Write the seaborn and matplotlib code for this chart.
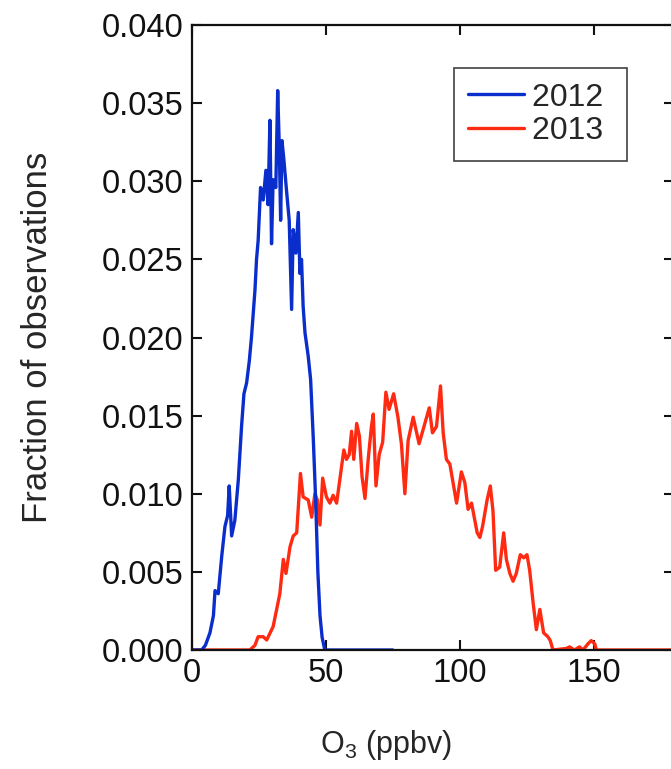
import matplotlib
matplotlib.use("Agg")
import matplotlib.pyplot as plt
import seaborn as sns
import pandas as pd

# O3 distributions (ppbv, fraction of observations)
o3_2012 = [0, 3.6, 5.0, 6.7, 8.0, 8.6, 9.8, 11.1, 12.3, 13.3, 13.9, 14.8, 16.0,
           17.3, 18.5, 19.4, 20.4, 21.4, 22.2, 23.5, 24.1, 24.7, 25.6, 26.6,
           27.6, 28.4, 29.1, 29.7, 30.3, 31.3, 32.0, 32.6, 33.1, 33.6, 34.3,
           35.3, 36.3, 37.2, 37.8, 38.8, 39.7, 40.3, 40.9, 41.5, 42.2, 43.4,
           44.3, 45.3, 46.2, 47.0, 47.8, 48.6, 49.6, 75]
frac_2012 = [0, 0, 0.0003, 0.0011, 0.0022, 0.0038, 0.0036, 0.0060, 0.0079,
             0.0086, 0.0105, 0.0073, 0.0083, 0.0109, 0.0143, 0.0164, 0.0171,
             0.0185, 0.0200, 0.0230, 0.0250, 0.0262, 0.0296, 0.0288, 0.0307,
             0.0285, 0.0339, 0.0260, 0.0301, 0.0296, 0.0358, 0.0322, 0.0275,
             0.0326, 0.0314, 0.0294, 0.0275, 0.0218, 0.0269, 0.0254, 0.0280,
             0.0241, 0.0250, 0.0220, 0.0203, 0.0188, 0.0173, 0.0135, 0.0095,
             0.0050, 0.0022, 0.0008, 0, 0]

o3_2013 = [0, 21.6, 23.5, 24.7, 26.6, 27.9, 30.3, 32.8, 34.1, 35.1, 36.6, 37.8,
           39.1, 40.5, 41.5, 43.4, 44.7, 45.9, 46.8, 47.8, 48.8, 50.2, 51.5,
           52.7, 54.0, 55.2, 56.7, 57.7, 58.7, 59.6, 60.4, 61.5, 62.5, 63.5,
           64.6, 65.8, 67.0, 67.7, 68.7, 69.9, 71.2, 72.4, 73.6, 75.3, 76.9,
           78.2, 79.5, 80.7, 82.6, 84.8, 86.3, 88.6, 89.8, 91.3, 92.8, 93.8,
           95.0, 96.3, 98.8, 100.6, 101.9, 103.1, 104.4, 106.5, 107.5, 108.5,
           110.2, 111.4, 112.4, 113.4, 114.9, 116.4, 117.4, 118.7, 119.9,
           121.1, 122.6, 123.9, 125.1, 126.1, 127.4, 128.6, 129.9, 131.3,
           132.9, 133.8, 134.8, 139.8, 141.0, 142.8, 144.7, 146.0, 147.9,
           149.1, 150.4, 151.0, 180]
frac_2013 = [0, 0, 0.0003, 0.00085, 0.00085, 0.00064, 0.0015, 0.0036, 0.0058,
             0.0049, 0.0066, 0.0073, 0.0075, 0.0113, 0.0098, 0.0096, 0.0085,
             0.0100, 0.0096, 0.0080, 0.0110, 0.0098, 0.0094, 0.0099, 0.0094,
             0.0109, 0.0128, 0.0122, 0.0125, 0.0140, 0.0122, 0.0145, 0.0137,
             0.0111, 0.0097, 0.0122, 0.0143, 0.0151, 0.0105, 0.0125, 0.0133,
             0.0165, 0.0154, 0.0164, 0.0149, 0.0132, 0.0100, 0.0134, 0.0149,
             0.0132, 0.0141, 0.0155, 0.0139, 0.0143, 0.0169, 0.0139, 0.0122,
             0.0119, 0.0094, 0.0114, 0.0107, 0.0090, 0.0094, 0.0075, 0.0072,
             0.0079, 0.0096, 0.0105, 0.0089, 0.0051, 0.0053, 0.0075, 0.0058,
             0.0049, 0.0044, 0.0049, 0.0061, 0.0059, 0.0061, 0.0051, 0.0030,
             0.0013, 0.0026, 0.0011, 0.00085, 0.0006, 0, 0.0001, 0.0002, 0,
             0.0002, 0, 0.0004, 0.0006, 0.0004, 0, 0]

years = ["2012", "2013"]
colors = {"2012": "#0A2ECC", "2013": "#FF2A12"}
y_ticks = [0.000, 0.005, 0.010, 0.015, 0.020, 0.025, 0.030, 0.035, 0.040]
x_ticks = [0, 50, 100, 150]

df12 = pd.DataFrame({"o3": o3_2012, "frac": frac_2012, "year": "2012"})
df13 = pd.DataFrame({"o3": o3_2013, "frac": frac_2013, "year": "2013"})

sns.set_style("ticks")
plt.rcParams["font.family"] = ["Liberation Sans", "DejaVu Sans"]
plt.rcParams["mathtext.fontset"] = "custom"
plt.rcParams["mathtext.rm"] = "Liberation Sans"

fig = plt.figure(figsize=(6.71, 7.69), dpi=100)
ax = fig.add_axes([192 / 671, 1 - 650 / 769, 482 / 671, 625 / 769])

# red first so the blue curve sits on top where they cross
sns.lineplot(data=df13, x="o3", y="frac", color=colors["2013"], lw=2.4,
             estimator=None, sort=False, label="2013", ax=ax)
sns.lineplot(data=df12, x="o3", y="frac", color=colors["2012"], lw=2.4,
             estimator=None, sort=False, label="2012", ax=ax)

ax.set_xlim(0, 180)
ax.set_ylim(0, 0.040)
ax.set_xticks(x_ticks)
ax.set_yticks(y_ticks)
ax.set_yticklabels([f"{v:.3f}" for v in y_ticks])
ax.tick_params(direction="in", length=7, width=1.5, labelsize=23.5,
               top=True, right=True, pad=6, colors="#111111")
for sp in ax.spines.values():
    sp.set_visible(True)
    sp.set_linewidth(1.6)
    sp.set_color("#111111")

ax.set_xlabel(r"O$_\mathregular{3}$ (ppbv)", fontsize=22)
ax.xaxis.set_label_coords((386 - 192) / 482, -0.125)
ax.set_ylabel("Fraction of observations", fontsize=25)
ax.yaxis.set_label_coords(-0.287, 0.5)

handles, labels = ax.get_legend_handles_labels()
order = [labels.index(y) for y in years]
leg = ax.legend([handles[i] for i in order], [labels[i] for i in order],
                loc="upper right", bbox_to_anchor=(0.902, 0.931),
                fontsize=23, frameon=True, fancybox=False, handlelength=1.75,
                handletextpad=0.25, borderpad=0.45, labelspacing=0.12,
                borderaxespad=0)
leg.get_frame().set_edgecolor("#111111")
leg.get_frame().set_linewidth(1.2)
# widen the box a little on the right, like the reference frame
for t in leg.get_texts():
    t.set_text(t.get_text() + " ")

fig.savefig("out.png", dpi=100)
